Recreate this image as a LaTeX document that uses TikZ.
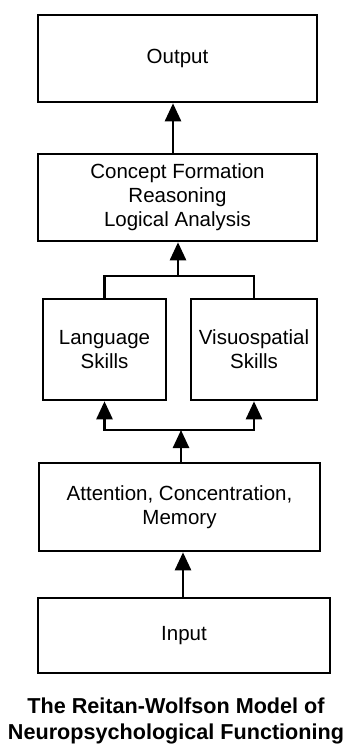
\documentclass[tikz,border=0pt]{standalone}
\usepackage{fontspec}
\setmainfont{Liberation Sans}
\usetikzlibrary{arrows.meta}
\begin{document}
\begin{tikzpicture}[x=1bp,y=-1bp,
  stagebox/.style={draw=black,line width=2.6bp,inner sep=0pt,align=center,
    font=\fontsize{20.5bp}{24bp}\selectfont},
  link/.style={line width=2.6bp},
  arr/.style={link,-{Triangle[width=16bp,length=18bp]}}]
\useasboundingbox (0,0) rectangle (350,751);
\fill[white] (0,0) rectangle (350,751);
% stages, top to bottom
\node[stagebox,minimum width=279bp,minimum height=87bp] (output) at (177.5,58.5) {Output};
\node[stagebox,minimum width=279bp,minimum height=87bp] (concept) at (177.5,197.5)
  {Concept Formation\\Reasoning\\Logical Analysis};
\node[stagebox,minimum width=123bp,minimum height=101bp] (lang) at (104.5,349.5) {Language\\Skills};
\node[stagebox,minimum width=126bp,minimum height=101bp] (vis) at (254,349.5) {Visuospatial\\Skills};
\node[stagebox,minimum width=281bp,minimum height=88bp] (attn) at (179.5,507)
  {Attention, Concentration,\\Memory};
\node[stagebox,minimum width=292bp,minimum height=75bp] (input) at (184,635.5) {Input};
\node[font=\fontsize{21.6bp}{26bp}\selectfont\bfseries,align=center,inner sep=0pt] (title) at (176,721)
  {The Reitan-Wolfson Model of\\Neuropsychological Functioning};
% junctions and arrow columns
\coordinate (a1) at (173,0);
\coordinate (j1) at (178,276);
\coordinate (j2) at (181,430);
\coordinate (a4) at (183,0);
% connectors
\draw[arr] (concept.north -| a1) -- (output.south -| a1);
\draw[link] (lang.north) |- (j1) -| (vis.north);
\draw[arr] (j1) -- (concept.south -| j1);
\draw[arr] (j2) -| (lang.south);
\draw[arr] (j2) -| (vis.south);
\draw[arr] (attn.north -| j2) -- (j2);
\draw[arr] (input.north -| a4) -- (attn.south -| a4);
\end{tikzpicture}
\end{document}
